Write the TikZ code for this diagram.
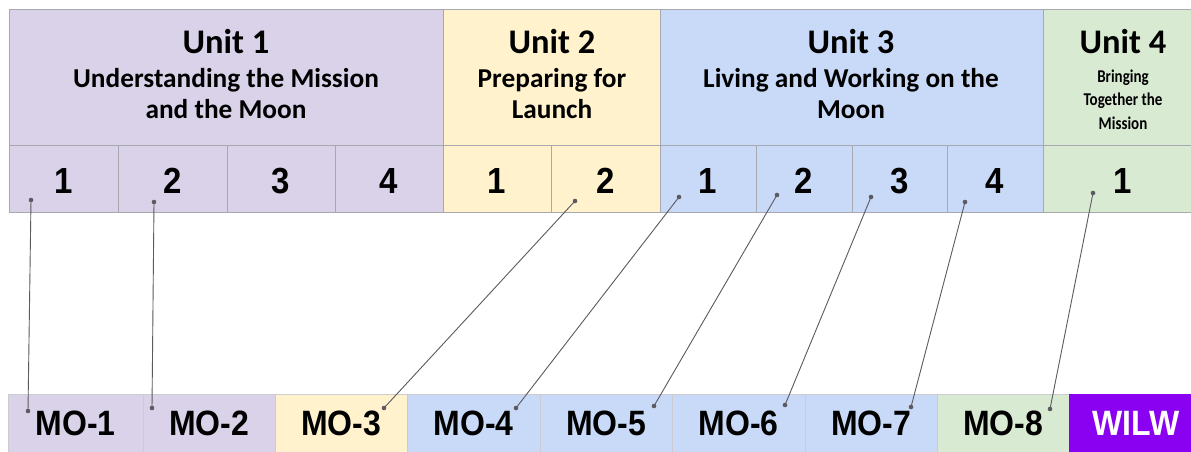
\documentclass[tikz,border=0pt]{standalone}
\usepackage{fontspec}
\usepackage{graphicx}
\newfontfamily\hdf{Carlito}
\newfontfamily\arf{Liberation Sans}
\definecolor{uA}{HTML}{D9D2E9}
\definecolor{uB}{HTML}{FFF2CC}
\definecolor{uC}{HTML}{C9DAF8}
\definecolor{uD}{HTML}{D9EAD3}
\definecolor{uW}{HTML}{8A00F0}
\definecolor{gridc}{HTML}{A8A8B0}
\definecolor{linec}{HTML}{5A5A60}
\newcommand{\tall}[1]{\scalebox{1}[1.1]{#1}}
\newcommand{\taller}[1]{\scalebox{1}[1.2]{#1}}
\begin{document}
\begin{tikzpicture}[x=1pt,y=-1pt,
  cell/.style={draw=gridc, line width=0.8pt, inner sep=0pt, outer sep=0pt, anchor=north west},
  numcell/.style={cell, minimum height=67pt, font=\arf\bfseries\fontsize{33}{33}\selectfont, text height=29pt, text depth=0pt},
  mocell/.style={cell, draw=gridc!60, minimum height=60pt, minimum width=132pt, font=\arf\bfseries\fontsize{32}{32}\selectfont, text height=22pt, text depth=0pt},
  ttl/.style={anchor=base, inner sep=0pt, font=\hdf\bfseries\fontsize{34.5}{34.5}\selectfont},
  sub/.style={anchor=base, inner sep=0pt, font=\hdf\bfseries\fontsize{27.3}{27.3}\selectfont},
  subs/.style={anchor=base, inner sep=0pt, font=\hdf\bfseries\fontsize{15}{15}\selectfont},
  link/.style={draw=linec, line width=0.9pt},
  dot/.style={fill=linec}
]
\useasboundingbox (0,0) rectangle (1191,452);
\fill[white] (0,0) rectangle (1191,452);

% ---- Unit headers
\node[cell, fill=uA, minimum width=434pt, minimum height=136pt] (h1) at (9,9) {};
\node[cell, fill=uB, minimum width=217pt, minimum height=136pt] (h2) at (443,9) {};
\node[cell, fill=uC, minimum width=383pt, minimum height=136pt] (h3) at (660,9) {};
\node[cell, fill=uD, minimum width=165pt, minimum height=136pt] (h4) at (1043,9) {};

\node[ttl] (t1) at (226,53) {Unit 1};
\node[sub] (s1a) at (226,87) {Understanding the Mission};
\node[sub] (s1b) at (226,118) {and the Moon};
\node[ttl] (t2) at (552,53) {Unit 2};
\node[sub] (s2a) at (552,87) {Preparing for};
\node[sub] (s2b) at (552,118) {Launch};
\node[ttl] (t3) at (851,53) {Unit 3};
\node[sub] (s3a) at (851,87) {Living and Working on the};
\node[sub] (s3b) at (851,118) {Moon};
\node[ttl] (t4) at (1123,53) {Unit 4};
\node[subs] (s4a) at (1123,82) {\taller{Bringing}};
\node[subs] (s4b) at (1123,105) {\taller{Together the}};
\node[subs] (s4c) at (1123,129) {\taller{Mission}};

% ---- Lesson number cells
\node[numcell, fill=uA, minimum width=109pt] (a1) at (9,145) {\tall{1}};
\node[numcell, fill=uA, minimum width=109pt] (a2) at (118,145) {\tall{2}};
\node[numcell, fill=uA, minimum width=108pt] (a3) at (227,145) {\tall{3}};
\node[numcell, fill=uA, minimum width=108pt] (a4) at (335,145) {\tall{4}};
\node[numcell, fill=uB, minimum width=108pt] (b1) at (443,145) {\tall{1}};
\node[numcell, fill=uB, minimum width=109pt] (b2) at (551,145) {\tall{2}};
\node[numcell, fill=uC, minimum width=96pt] (c1) at (660,145) {\tall{1}};
\node[numcell, fill=uC, minimum width=96pt] (c2) at (756,145) {\tall{2}};
\node[numcell, fill=uC, minimum width=95pt] (c3) at (852,145) {\tall{3}};
\node[numcell, fill=uC, minimum width=96pt] (c4) at (947,145) {\tall{4}};
\node[numcell, fill=uD, minimum width=160pt] (d1) at (1043,145) {\tall{1}};

% ---- Mission objective cells
\node[mocell, fill=uA, minimum width=135pt] (m1) at (8,394) {\tall{MO-1}};
\node[mocell, fill=uA] (m2) at (143,394) {\tall{MO-2}};
\node[mocell, fill=uB] (m3) at (275,394) {\tall{MO-3}};
\node[mocell, fill=uC, minimum width=133pt] (m4) at (407,394) {\tall{MO-4}};
\node[mocell, fill=uC] (m5) at (540,394) {\tall{MO-5}};
\node[mocell, fill=uC, minimum width=133pt] (m6) at (672,394) {\tall{MO-6}};
\node[mocell, fill=uC] (m7) at (805,394) {\tall{MO-7}};
\node[mocell, fill=uD] (m8) at (937,394) {\tall{MO-8}};
\node[mocell, draw=none, fill=uW, minimum width=134pt, text=white] (w) at (1069,394) {\tall{WILW}};

% ---- connector end points
\coordinate (pa1) at (31,200);  \coordinate (qm1) at (28,411);
\coordinate (pa2) at (154,202); \coordinate (qm2) at (152,408);
\coordinate (pb2) at (575,201); \coordinate (qm3) at (384,408);
\coordinate (pc1) at (679,197); \coordinate (qm4) at (516,408);
\coordinate (pc2) at (777,195); \coordinate (qm5) at (654,406);
\coordinate (pc3) at (871,197); \coordinate (qm6) at (785,405);
\coordinate (pc4) at (965,202); \coordinate (qm7) at (911,407);
\coordinate (pd1) at (1093,193);\coordinate (qm8) at (1050,409);

\foreach \p/\q in {pa1/qm1, pa2/qm2, pb2/qm3, pc1/qm4, pc2/qm5, pc3/qm6, pc4/qm7, pd1/qm8}{
  \draw[link] (\p) -- (\q);
  \fill[dot] (\p) circle (2.3pt);
  \fill[dot] (\q) circle (2.3pt);
}
\end{tikzpicture}
\end{document}
